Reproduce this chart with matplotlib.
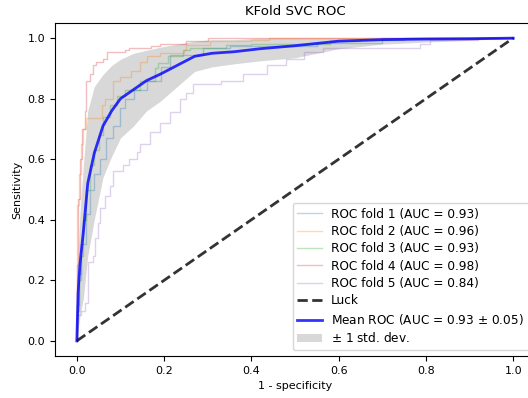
import numpy as np
import matplotlib
matplotlib.use('Agg')
import matplotlib.pyplot as plt

# ROC curves per fold (corner points)
fold_fpr = [
    [0, 0, .005, .01, .02, .03, .04, .053, .068, .083, .10, .11, .13, .16, .194, .213, .29, .35, .55, .70, 1],
    [0, 0, .005, .01, .015, .022, .057, .065, .083, .10, .125, .145, .16, .19, .245, .25, .305, .40, .44, 1],
    [0, 0, .005, .01, .015, .02, .03, .04, .05, .06, .075, .091, .11, .145, .18, .187, .21, .243, .26, .343,
     .40, .58, .65, .75, 1],
    [0, 0, .003, .007, .011, .018, .022, .03, .037, .045, .06, .07, .11, .12, .17, .19, .25, .30, 1],
    [0, 0, .01, .018, .026, .037, .041, .049, .053, .064, .076, .083, .106, .12, .137, .145, .167, .19, .213,
     .236, .25, .267, .33, .38, .435, .48, .52, .565, .786, .81, .92, 1],
]
fold_tpr = [
    [0, .12, .22, .32, .42, .50, .55, .60, .67, .71, .77, .80, .83, .86, .905, .944, .966, .975, .985, 1, 1],
    [0, .45, .55, .65, .70, .735, .78, .80, .86, .87, .89, .92, .94, .95, .96, .977, .99, .993, 1, 1],
    [0, .10, .20, .28, .40, .50, .58, .63, .68, .74, .78, .81, .83, .86, .90, .917, .94, .96, .966, .977,
     .982, .99, .995, 1, 1],
    [0, .25, .47, .60, .70, .76, .86, .88, .91, .92, .93, .955, .962, .968, .975, .98, .99, 1, 1],
    [0, .086, .097, .125, .26, .28, .34, .39, .44, .48, .51, .56, .58, .60, .625, .65, .69, .72, .757,
     .80, .82, .85, .857, .88, .91, .93, .955, .966, .982, .993, 1, 1],
]
fold_auc = [0.93, 0.96, 0.93, 0.98, 0.84]

# mean ROC and its std
mean_fpr = [0, .003, .007, .015, .025, .04, .06, .08, .1, .13, .16, .19, .23, .27, .31, .36, .42, .5, .6, .7, .8, .9, 1.0]
mean_tpr = [0, .16, .25, .36, .52, .62, .71, .76, .80, .83, .86, .88, .91, .94, .95, .955, .965, .975, .99, .995, .997, .998, 1.0]
std_tpr = [0, .12, .17, .22, .24, .22, .17, .15, .13, .12, .10, .09, .07, .05, .045, .04, .04, .04, .025, .015, .01, .005, 0]
mean_auc = 0.93
std_auc = 0.05

plt.rcParams['font.size'] = 8

fig = plt.figure(figsize=(5.28, 3.98), dpi=100)
ax = fig.add_axes([55/528, 42/398, 480/528, 333/398])

for i in range(len(fold_fpr)):
    ax.plot(fold_fpr[i], fold_tpr[i], lw=1, alpha=0.3, drawstyle='steps-post',
            label='ROC fold %d (AUC = %0.2f)' % (i + 1, fold_auc[i]))

ax.plot([0, 1], [0, 1], linestyle='--', lw=2, color='k', label='Luck', alpha=.8)

ax.plot(mean_fpr, mean_tpr, color='b', lw=2, alpha=.8,
        label=r'Mean ROC (AUC = %0.2f $\pm$ %0.2f)' % (mean_auc, std_auc))

mean_tpr = np.array(mean_tpr)
std_tpr = np.array(std_tpr)
tprs_upper = np.minimum(mean_tpr + std_tpr, 1)
tprs_lower = np.maximum(mean_tpr - std_tpr, 0)
ax.fill_between(mean_fpr, tprs_lower, tprs_upper, color='grey', alpha=.3,
                label=r'$\pm$ 1 std. dev.', lw=0)

ax.set_xlim([-0.05, 1.05])
ax.set_ylim([-0.05, 1.05])
ax.set_xlabel('1 - specificity')
ax.set_ylabel('Sensitivity')
ax.set_title('KFold SVC ROC', fontsize=9.6)
ax.legend(loc="lower right", fontsize=8.7, labelspacing=0.36)

fig.savefig('out.png', dpi=100)
